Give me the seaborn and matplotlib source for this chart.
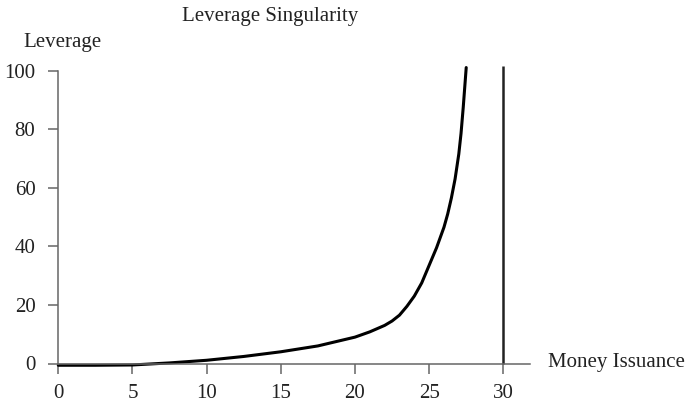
import matplotlib
matplotlib.use("Agg")
import matplotlib.pyplot as plt
import seaborn as sns
import pandas as pd

# Dados
money_issuance = [0, 2.5, 5, 7.5, 10, 12.5, 15, 17.5, 20, 21, 22, 22.5, 23, 23.5,
                  24, 24.5, 25, 25.5, 26, 26.25, 26.5, 26.75, 27, 27.15, 27.3, 27.5]
leverage = [-0.6, -0.6, -0.5, 0.2, 1.1, 2.4, 4.0, 6.0, 9.0, 10.8, 13.0, 14.5, 16.5, 19.5,
            23.0, 27.5, 33.5, 39.5, 46.5, 51.0, 56.5, 63.0, 71.5, 78.5, 87.5, 101.0]
singularity_x = [30, 30]
singularity_y = [0, 101.5]
x_ticks = [0, 5, 10, 15, 20, 25, 30]
y_ticks = [0, 20, 40, 60, 80, 100]

df = pd.DataFrame({"x": money_issuance, "y": leverage})

sns.set_theme(style="ticks")
plt.rcParams["font.family"] = ["Liberation Serif", "DejaVu Serif"]

fig = plt.figure(figsize=(6.98, 4.05), dpi=100)
ax = fig.add_axes([58.3 / 698, 1 - 363.5 / 405, (530 - 58.3) / 698, (363.5 - 70.5) / 405])

sns.lineplot(data=df, x="x", y="y", ax=ax, color="black", linewidth=2.2,
             estimator=None, sort=False, clip_on=False)
ax.plot(singularity_x, singularity_y, color="#222222", linewidth=1.8,
        clip_on=False, solid_capstyle="butt")

ax.set_xlim(0, 31.8)
ax.set_ylim(0, 100)
ax.set_xticks(x_ticks)
ax.set_yticks(y_ticks)
ax.set_xlabel("")
ax.set_ylabel("")

for side in ["top", "right"]:
    ax.spines[side].set_visible(False)
for side in ["left", "bottom"]:
    ax.spines[side].set_color("#666666")
    ax.spines[side].set_linewidth(1.1)

ax.tick_params(axis="both", colors="#666666", length=7.5, width=1.1,
               labelsize=15, labelcolor="#222222")
ax.tick_params(axis="x", pad=7)
ax.tick_params(axis="y", pad=9)

fig.text(270 / 698, 1 - 16 / 405, "Leverage Singularity", ha="center", va="center",
         fontsize=15, color="#222222")
fig.text(62 / 698, 1 - 42 / 405, "Leverage", ha="center", va="center",
         fontsize=15, color="#222222")
fig.text(548 / 698, 1 - 363 / 405, "Money Issuance", ha="left", va="center",
         fontsize=15, color="#222222")

fig.savefig("out.png", dpi=100)
